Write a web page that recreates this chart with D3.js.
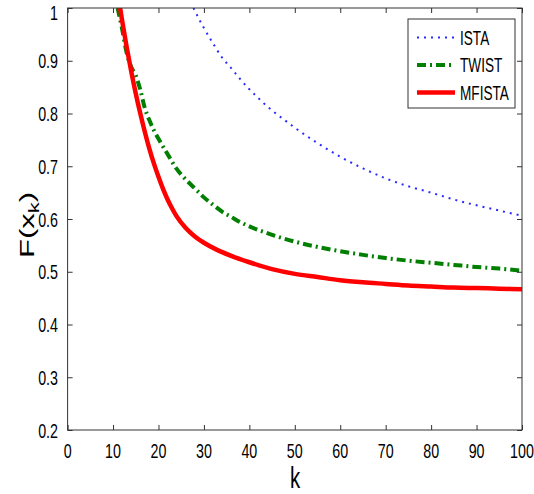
<!DOCTYPE html>
<html>
<head>
<meta charset="utf-8">
<script src="https://cdnjs.cloudflare.com/ajax/libs/d3/7.8.5/d3.min.js"></script>
<style>
  html, body { margin: 0; padding: 0; background: #fff; }
  svg { display: block; }
  text { font-family: "Liberation Sans", Arial, Helvetica, sans-serif; fill: #000; }
</style>
</head>
<body>
<svg id="chart" width="534" height="494"></svg>
<script>
// Objective value F(x_k) against iteration k for three solvers
const istaK   = [27, 28, 29, 30, 32, 34, 36, 38, 40, 42, 44, 46, 48, 50, 55, 60, 65, 70, 75, 80, 85, 90, 95, 100];
const istaF   = [1.012, 0.995, 0.978, 0.962, 0.933, 0.906, 0.886, 0.865, 0.846, 0.829, 0.813, 0.799, 0.786, 0.773, 0.744, 0.718, 0.696, 0.677, 0.662, 0.650, 0.637, 0.626, 0.616, 0.606];

const twistK  = [11, 12, 13, 14, 15, 16, 17, 18, 19, 20, 22, 24, 26, 28, 30, 32, 34, 36, 38, 40, 45, 50, 55, 60, 65, 70, 75, 80, 85, 90, 95, 100];
const twistF  = [1.0, 0.96, 0.915, 0.888, 0.872, 0.845, 0.81, 0.787, 0.768, 0.752, 0.723, 0.695, 0.675, 0.658, 0.641, 0.627, 0.614, 0.604, 0.594, 0.586, 0.570, 0.557, 0.547, 0.539, 0.532, 0.526, 0.521, 0.517, 0.513, 0.509, 0.506, 0.502];

const mfistaK = [11, 12, 13, 14, 15, 16, 17, 18, 19, 20, 21, 22, 23, 24, 26, 28, 30, 33, 36, 40, 45, 50, 55, 60, 65, 70, 75, 80, 85, 90, 95, 100];
const mfistaF = [1.03, 0.976, 0.926, 0.880, 0.838, 0.800, 0.765, 0.733, 0.705, 0.680, 0.657, 0.637, 0.620, 0.605, 0.583, 0.567, 0.555, 0.541, 0.530, 0.518, 0.505, 0.496, 0.490, 0.484, 0.480, 0.477, 0.474, 0.472, 0.470, 0.469, 0.468, 0.467];

const seriesNames = ["ISTA", "TWIST", "MFISTA"];
const xTicks = [0, 10, 20, 30, 40, 50, 60, 70, 80, 90, 100];
const yTicks = [0.2, 0.3, 0.4, 0.5, 0.6, 0.7, 0.8, 0.9, 1];

const styles = [
  { color: "#2a2aff", width: 2,   dash: "2,5" },
  { color: "#007f00", width: 4,   dash: "9,4,2,4" },
  { color: "#ff0000", width: 4.5, dash: null }
];

const plot = { left: 67.6, right: 522, top: 8, bottom: 430 };
const narrow = 0.68;   // condensed glyph width
const tickLen = 5;
const axisColor = "#333";

const svg = d3.select("#chart");
const x = d3.scaleLinear().domain([0, 100]).range([plot.left, plot.right]);
const y = d3.scaleLinear().domain([0.2, 1]).range([plot.bottom, plot.top]);

svg.append("defs").append("clipPath").attr("id", "plotClip")
  .append("rect")
  .attr("x", plot.left).attr("y", plot.top)
  .attr("width", plot.right - plot.left).attr("height", plot.bottom - plot.top);

// Series lines
const series = [
  istaK.map((k, i) => [k, istaF[i]]),
  twistK.map((k, i) => [k, twistF[i]]),
  mfistaK.map((k, i) => [k, mfistaF[i]])
];
const line = d3.line().x(d => x(d[0])).y(d => y(d[1])).curve(d3.curveMonotoneX);
const lines = svg.append("g").attr("clip-path", "url(#plotClip)");
series.forEach((pts, i) => {
  lines.append("path")
    .attr("d", line(pts))
    .attr("fill", "none")
    .attr("stroke", styles[i].color)
    .attr("stroke-width", styles[i].width)
    .attr("stroke-dasharray", styles[i].dash)
    .attr("stroke-linejoin", "round");
});

// Axes box with inward ticks on all four sides
const axisG = svg.append("g");
axisG.append("rect")
  .attr("x", plot.left).attr("y", plot.top)
  .attr("width", plot.right - plot.left).attr("height", plot.bottom - plot.top)
  .attr("fill", "none").attr("stroke", axisColor).attr("stroke-width", 1);

axisG.append("g").attr("transform", `translate(0,${plot.bottom})`)
  .call(d3.axisBottom(x).tickValues(xTicks).tickSizeInner(-tickLen).tickSizeOuter(0).tickFormat(""))
  .call(g => g.select(".domain").remove());
axisG.append("g").attr("transform", `translate(0,${plot.top})`)
  .call(d3.axisTop(x).tickValues(xTicks).tickSizeInner(-tickLen).tickSizeOuter(0).tickFormat(""))
  .call(g => g.select(".domain").remove());
axisG.append("g").attr("transform", `translate(${plot.left},0)`)
  .call(d3.axisLeft(y).tickValues(yTicks).tickSizeInner(-tickLen).tickSizeOuter(0).tickFormat(""))
  .call(g => g.select(".domain").remove());
axisG.append("g").attr("transform", `translate(${plot.right},0)`)
  .call(d3.axisRight(y).tickValues(yTicks).tickSizeInner(-tickLen).tickSizeOuter(0).tickFormat(""))
  .call(g => g.select(".domain").remove());
axisG.selectAll(".tick line").attr("stroke", axisColor);

// Condensed text helper
function label(parent, tx, ty, size, anchor) {
  const g = parent.append("g")
    .attr("transform", `translate(${tx},${ty}) scale(${narrow},1)`);
  return g.append("text")
    .attr("text-anchor", anchor)
    .attr("font-size", size);
}

const fmt = d3.format("");
xTicks.forEach(v => {
  label(svg, x(v), 458, 21, "middle").text(fmt(v));
});
yTicks.forEach(v => {
  // keep the topmost label inside the canvas
  label(svg, 58, Math.max(y(v) + 7.5, 19.5), 21, "end").text(fmt(v));
});

// Axis titles
label(svg, 295, 488, 30, "middle").text("k");
{
  const g = svg.append("g").attr("transform", `translate(34,225) rotate(-90) scale(1,${narrow})`);
  const t = g.append("text").attr("text-anchor", "middle").attr("font-size", 31);
  t.append("tspan").text("F(x");
  t.append("tspan").attr("font-size", 22).attr("dy", 8).text("k");
  t.append("tspan").attr("dy", -8).text(")");
}

// Legend
const leg = svg.append("g");
leg.append("rect")
  .attr("x", 408).attr("y", 19).attr("width", 107).attr("height", 89)
  .attr("fill", "#fff").attr("stroke", axisColor).attr("stroke-width", 1);
seriesNames.forEach((name, i) => {
  const cy = 37.5 + i * 27.5;
  leg.append("line")
    .attr("x1", 417).attr("x2", 455).attr("y1", cy).attr("y2", cy)
    .attr("stroke", styles[i].color)
    .attr("stroke-width", styles[i].width)
    .attr("stroke-dasharray", styles[i].dash);
  label(leg, 460, cy + 7, 20, "start").text(name);
});
</script>
</body>
</html>
